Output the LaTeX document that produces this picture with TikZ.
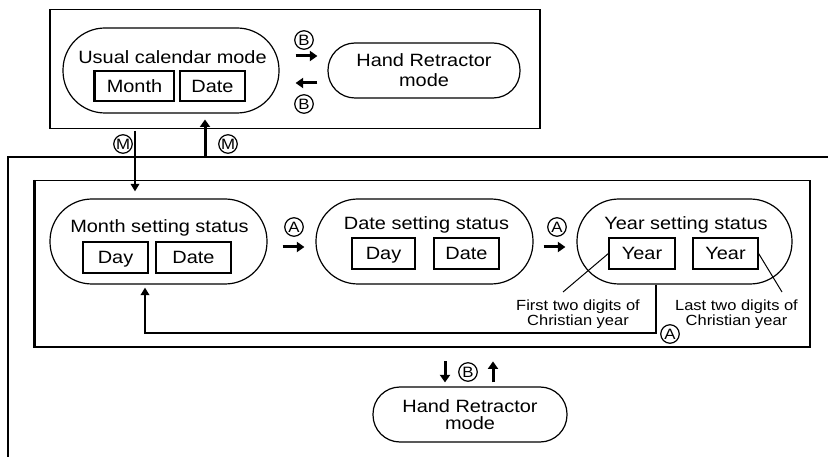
\documentclass[tikz,border=0pt]{standalone}
\usepackage{fontspec}
\setmainfont{Liberation Sans}[FakeStretch=1.12]
\usetikzlibrary{arrows.meta}
\newcommand\mfs{\fontsize{17.8}{20}\selectfont}
\newcommand\mfsb{\fontsize{17.8}{16.5}\selectfont}
\newcommand\nfs{\fontsize{14.7}{15.5}\selectfont}
\newcommand\cfs{\fontsize{15}{15}\selectfont}
\begin{document}
\begin{tikzpicture}[x=1pt,y=-1pt,
  oval/.style={draw, line width=1.2pt, rounded corners=#1, inner sep=0pt},
  valbox/.style={draw, line width=1.2pt, inner sep=0pt, font=\mfs, text height=12.8pt, text depth=0pt},
  lbl/.style={font=\mfs, anchor=base, inner sep=0pt},
  note/.style={font=\nfs, align=center, inner sep=0pt},
  circ/.style={circle, draw, line width=1.2pt, font=\cfs, inner sep=0pt, minimum size=18.5pt, text height=10.8pt, text depth=0pt},
  arr/.style={line width=3pt, -{Triangle[length=7.5pt,width=10pt]}},
  thinarr/.style={line width=1.7pt, -{Triangle[length=7.5pt,width=8.5pt]}},
  frame/.style={line width=1.5pt},
  lead/.style={line width=1pt}
]
\useasboundingbox (0,0) rectangle (828,457);

% frames
\node[draw, frame, minimum width=490pt, minimum height=119pt, inner sep=0pt, anchor=north west] (topbox) at (49,9) {};
\draw[frame, line width=1.8pt] (828,157) -- (8,157) -- (8,457);
\node[draw, frame, minimum width=775pt, minimum height=166pt, inner sep=0pt, anchor=north west] (inner) at (34,180) {};
\draw[line width=2.6pt] (inner.north west) -- (inner.south west);

% top: usual calendar mode
\node[oval=42pt, minimum width=216pt, minimum height=85pt] (usual) at (171,70.5) {};
\node[lbl] (usualt) at (172.5,64) {Usual calendar mode};
\node[valbox, minimum width=79pt, minimum height=30pt] (umonth) at (134.5,86) {Month};
\draw[line width=2.4pt] (umonth.north west) -- (umonth.south west);
\node[valbox, minimum width=65pt, minimum height=30pt] (udate) at (212.5,86) {Date};

\node[oval=27pt, minimum width=192pt, minimum height=55pt, align=center, font=\mfs] (hand) at (424,70.5) {Hand Retractor\\mode};

\draw[arr, shorten <=16pt, shorten >=10pt] ([yshift=14.5pt]usual.east) -- ([yshift=14.5pt]hand.west);
\draw[arr, shorten <=10pt, shorten >=16pt] ([yshift=-12.5pt]hand.west) -- ([yshift=-12.5pt]usual.east);
\node[circ] (b1) at (304,40) {B};
\node[circ] (b2) at (304,104) {B};

% mode switches
\coordinate (mdown) at (135,131);
\coordinate (mup) at (205,157);
\node[circ] (m1) at (123,144) {M};
\node[circ] (m2) at (228,144) {M};

% setting status ovals
\node[oval=42pt, minimum width=217pt, minimum height=85pt] (month) at (158.5,241.5) {};
\node[lbl] (montht) at (159.5,233) {Month setting status};
\node[valbox, minimum width=65pt, minimum height=31pt] (mday) at (115.5,257.5) {Day};
\node[valbox, minimum width=75pt, minimum height=31pt] (mdate) at (193.5,257.5) {Date};

\node[oval=42pt, minimum width=217pt, minimum height=85pt] (date) at (424.5,241.5) {};
\node[lbl] (datet) at (426.5,230) {Date setting status};
\node[valbox, minimum width=63pt, minimum height=31pt] (dday) at (383.5,253.5) {Day};
\node[valbox, minimum width=65pt, minimum height=31pt] (ddate) at (466.5,253.5) {Date};

\node[oval=42pt, minimum width=215pt, minimum height=85pt] (year) at (684.5,241.5) {};
\node[lbl] (yeart) at (686,230) {Year setting status};
\node[valbox, minimum width=66pt, minimum height=31pt] (yb1) at (642,253.5) {Year};
\node[valbox, minimum width=65pt, minimum height=31pt] (yb2) at (725.5,253.5) {Year};

\draw[thinarr, shorten >=7pt] (mdown) -- (mdown |- month.north);
\draw[arr, shorten >=-10pt] (mup) -- (mup |- topbox.south);

\draw[arr, shorten <=15pt, shorten >=11pt] ([yshift=-5.5pt]month.east) -- ([yshift=-5.5pt]date.west);
\draw[arr, shorten <=10pt, shorten >=11pt] ([yshift=-5.5pt]date.east) -- ([yshift=-5.5pt]year.west);
\node[circ] (a1) at (294,227) {A};
\node[circ] (a2) at (557,227) {A};

% notes
\node[note] (n1) at (578,314) {First two digits of\\Christian year};
\node[note] (n2) at (736.5,314) {Last two digits of\\Christian year};
\coordinate (l1) at (563,292);
\coordinate (l2) at (782,292);
\draw[lead] (yb1.west) -- (l1);
\draw[lead] (yb2.east) -- (l2);

% loop back
\draw[thinarr, line width=2pt, shorten >=3pt] ([xshift=-28.5pt]year.south) -- ++(0,48) -| ([xshift=-13.5pt]month.south);
\node[circ] (a3) at (670,334) {A};

% bottom hand retractor
\node[oval=27pt, minimum width=194pt, minimum height=55pt, align=center, font=\mfsb] (bhand) at (470,414.5) {Hand Retractor\\mode};
\draw[arr] ([xshift=-25pt,yshift=25pt]bhand.north) -- ([xshift=-25pt,yshift=4pt]bhand.north);
\draw[arr] ([xshift=23pt,yshift=4pt]bhand.north) -- ([xshift=23pt,yshift=25pt]bhand.north);
\node[circ] (b3) at (468,372) {B};
\end{tikzpicture}
\end{document}
